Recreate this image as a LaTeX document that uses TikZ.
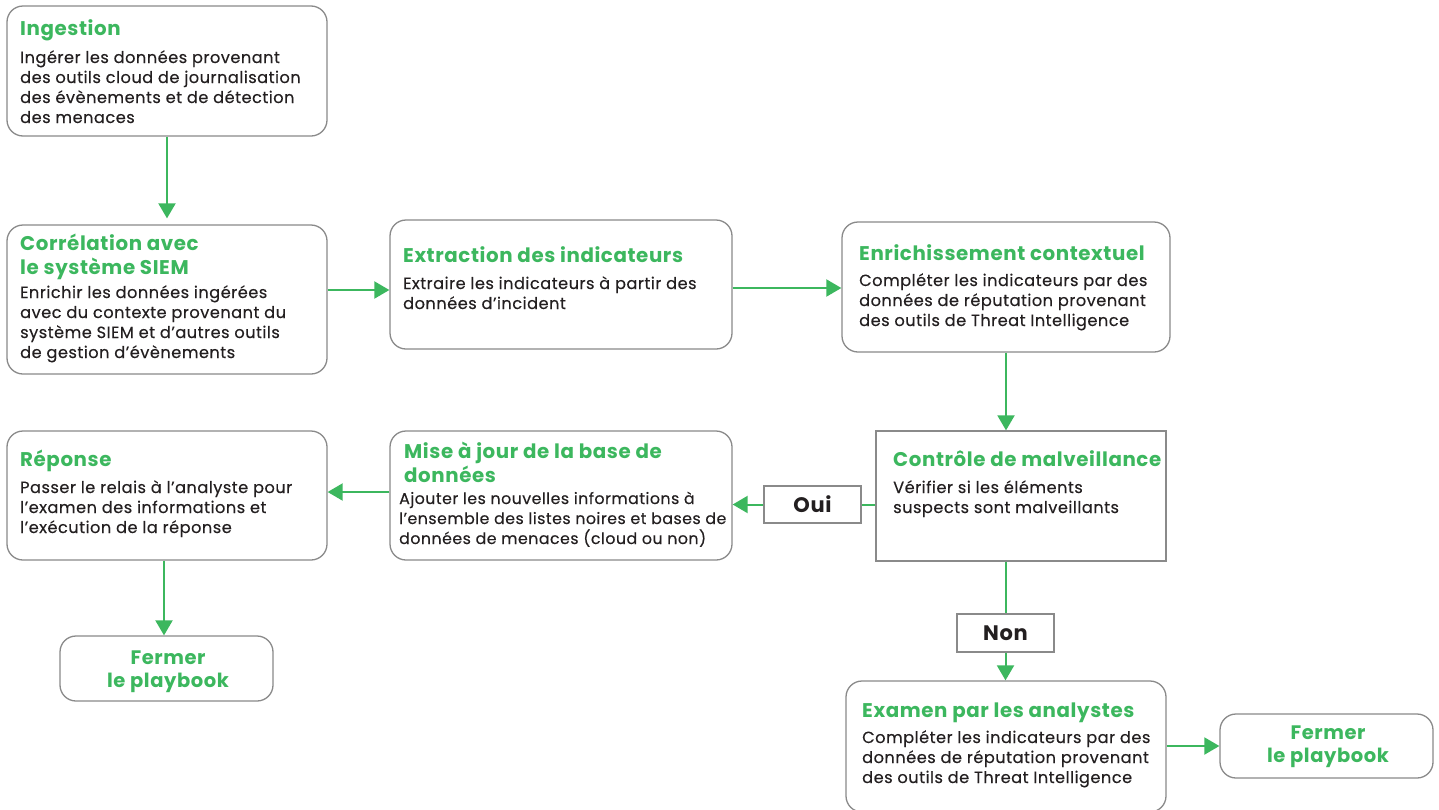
\documentclass[tikz,border=0pt]{standalone}
\usepackage{fontspec}
\setmainfont{Poppins}[LetterSpace=3]
\newfontfamily\bodyface{Poppins}[LetterSpace=3, FakeBold=0.25]
\usetikzlibrary{arrows.meta,fit}

\definecolor{brand}{HTML}{3CB75E}
\definecolor{ink}{HTML}{231F20}
\definecolor{frame}{HTML}{8A8A8A}

% multi-line block whose baseline is the first line's baseline
\newcommand\blk[2][360pt]{\parbox[t]{#1}{\raggedright #2}}
\newcommand\cblk[1]{\parbox[t]{200pt}{\centering #1}}

\tikzset{
  rbox/.style={draw=frame, line width=1.3pt, rounded corners=16pt, fill=white, inner sep=0pt},
  sbox/.style={draw=frame, line width=1.3pt, fill=white, inner sep=0pt},
  ttl/.style={anchor=base west, inner sep=0pt, text=brand,
    font=\fontsize{19.8}{24}\selectfont\bfseries},
  body/.style={anchor=base west, inner sep=0pt, text=ink,
    font=\bodyface\fontsize{16.2}{20}\selectfont},
  tightbody/.style={body, font=\bodyface\fontsize{15.8}{20}\selectfont},
  endtxt/.style={anchor=base, inner sep=0pt, text=brand,
    font=\fontsize{19.5}{23}\selectfont\bfseries},
  tag/.style={sbox, text=ink, font=\fontsize{21}{24}\selectfont\bfseries},
  flow/.style={draw=brand, line width=2pt, -{Triangle[width=17pt,length=15pt]}},
  link/.style={draw=brand, line width=2pt},
}

\begin{document}
\begin{tikzpicture}[x=1pt, y=-1pt]
\useasboundingbox[fill=white] (0,0) rectangle (1439,809);

% ---- boxes ----
\node[rbox, fit={(7,6) (327,136)}] (ing) {};
\node[rbox, fit={(7,225) (327,374)}] (cor) {};
\node[rbox, fit={(390,220) (732,349)}] (ext) {};
\node[rbox, fit={(842,222) (1170,352)}] (enr) {};
\node[sbox, fit={(876,431) (1166,561)}] (ctl) {};
\node[rbox, fit={(390,431) (732,560)}] (maj) {};
\node[rbox, fit={(7,431) (327,560)}] (rep) {};
\node[rbox, fit={(60,636) (273,701)}] (fl) {};
\node[rbox, fit={(846,681) (1166,812)}] (exa) {};
\node[rbox, fit={(1220,714) (1433,778)}] (fr) {};
\node[tag, minimum width=97pt, minimum height=37pt] (oui) at (812.5,504.5) {Oui};
\node[tag, minimum width=97pt, minimum height=38pt] (non) at (1005.5,633) {Non};

% ---- texts ----
\node[ttl] (ingT) at (20,35) {Ingestion};
\node[body] (ingB) at (20,63) {\blk{Ingérer les données provenant\\des outils cloud de journalisation\\des évènements et de détection\\des menaces}};

\node[ttl] (corT) at (20,250) {\blk{Corrélation avec\\le système SIEM}};
\node[body] (corB) at (20,298) {\blk{Enrichir les données ingérées\\avec du contexte provenant du\\système SIEM et d’autres outils\\de gestion d’évènements}};

\node[ttl] (extT) at (403,262) {Extraction des indicateurs};
\node[body] (extB) at (403,289) {\blk{Extraire les indicateurs à partir des\\données d’incident}};

\node[ttl] (enrT) at (859,260) {Enrichissement contextuel};
\node[body] (enrB) at (859,286) {\blk{Compléter les indicateurs par des\\données de réputation provenant\\des outils de Threat Intelligence}};

\node[ttl] (ctlT) at (893,466) {Contrôle de malveillance};
\node[body] (ctlB) at (893,493) {\blk{Vérifier si les éléments\\suspects sont malveillants}};

\node[ttl] (majT) at (404,458) {\blk{Mise à jour de la base de\\données}};
\node[tightbody] (majB) at (399,504) {\blk{Ajouter les nouvelles informations à\\l’ensemble des listes noires et bases de\\données de menaces (cloud ou non)}};

\node[ttl] (repT) at (20,466) {Réponse};
\node[body] (repB) at (20,493) {\blk{Passer le relais à l’analyste pour\\l’examen des informations et\\l’exécution de la réponse}};

\node[ttl] (exaT) at (862,717) {Examen par les analystes};
\node[body] (exaB) at (862,743) {\blk{Compléter les indicateurs par des\\données de réputation provenant\\des outils de Threat Intelligence}};

\node[endtxt] (flT) at (168,664) {\cblk{Fermer\\le playbook}};
\node[endtxt] (frT) at (1328,739) {\cblk{Fermer\\le playbook}};

% ---- connectors ----
\draw[flow, shorten >=6pt] (ing.south) -- (cor.north);
\draw[flow] ([yshift=9.5pt]cor.east) -- ([yshift=9.5pt]cor.east -| ext.west);
\draw[flow] ([yshift=-3.5pt]ext.east) -- ([yshift=-3.5pt]ext.east -| enr.west);
\draw[flow] (enr.south) -- (enr.south |- ctl.north);
\draw[link] (ctl.west |- oui.east) -- (oui.east);
\draw[flow] (oui.west) -- (oui.west -| maj.east);
\draw[flow] ([yshift=3.5pt]maj.west) -- ([yshift=3.5pt]maj.west -| rep.east);
\draw[flow] ([xshift=-3pt]rep.south) -- ([xshift=-3pt]rep.south |- fl.north);
\draw[link] (non.north |- ctl.south) -- (non.north);
\draw[flow] (non.south) -- (non.south |- exa.north);
\draw[flow] (exa.east |- fr.west) -- (fr.west);
\end{tikzpicture}
\end{document}
